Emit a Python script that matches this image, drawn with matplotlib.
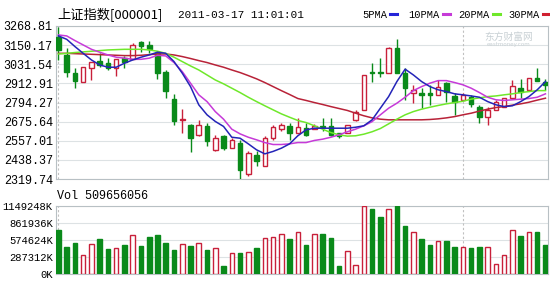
import numpy as np
import matplotlib
matplotlib.use("Agg")
import matplotlib.pyplot as plt
from matplotlib.lines import Line2D

# daily candles
opens = [3203, 3089, 2976, 2924, 3007, 3054, 3038, 3007, 3069, 3062,
         3168, 3151, 3100, 2986, 2815, 2687, 2656, 2594, 2650, 2501,
         2588, 2511, 2546, 2352, 2470, 2398, 2573, 2629, 2650, 2604,
         2635, 2629, 2650, 2650, 2604, 2604, 2683, 2749, 2986, 2986,
         2980, 3131, 2976, 2852, 2856, 2852, 2842, 2914, 2835, 2811,
         2827, 2769, 2707, 2745, 2765, 2821, 2883, 2873, 2949, 2924]
closes = [3120, 2986, 2930, 3017, 3048, 3027, 3007, 3062, 3048, 3151,
          3147, 3124, 2976, 2868, 2677, 2695, 2573, 2656, 2553, 2573,
          2511, 2559, 2377, 2480, 2429, 2573, 2641, 2656, 2604, 2641,
          2594, 2650, 2641, 2594, 2588, 2656, 2738, 2965, 2976, 2976,
          3131, 2980, 2883, 2873, 2842, 2842, 2893, 2862, 2800, 2842,
          2786, 2707, 2749, 2800, 2821, 2897, 2862, 2945, 2930, 2904]
highs = [3265, 3131, 3007, 3017, 3048, 3100, 3069, 3062, 3083, 3162,
         3178, 3178, 3110, 2996, 2848, 2753, 2660, 2687, 2666, 2594,
         2594, 2573, 2563, 2491, 2491, 2584, 2656, 2666, 2666, 2697,
         2666, 2662, 2697, 2697, 2608, 2656, 2749, 2965, 3038, 3069,
         3141, 3186, 3007, 2904, 2883, 2904, 2935, 2924, 2852, 2856,
         2842, 2780, 2765, 2811, 2821, 2935, 2939, 2945, 3007, 2939]
lows = [3058, 2955, 2883, 2924, 2935, 3017, 2996, 2959, 3007, 3062,
        3110, 3100, 2939, 2821, 2656, 2604, 2485, 2584, 2522, 2491,
        2501, 2511, 2319, 2336, 2398, 2398, 2559, 2615, 2563, 2604,
        2584, 2629, 2615, 2584, 2573, 2604, 2677, 2749, 2924, 2955,
        2980, 2980, 2811, 2790, 2759, 2780, 2842, 2800, 2718, 2811,
        2765, 2666, 2656, 2745, 2765, 2821, 2821, 2873, 2930, 2873]

# volume in K
volume = [744, 462, 530, 316, 513, 586, 428, 445, 496, 653,
          479, 620, 653, 518, 406, 507, 479, 530, 406, 439,
          135, 361, 349, 366, 439, 603, 620, 670, 586, 710,
          496, 670, 676, 603, 135, 383, 152, 1149, 1104, 963,
          1104, 1149, 817, 704, 586, 496, 563, 563, 462, 462,
          439, 462, 462, 169, 316, 744, 642, 710, 710, 496]

# moving average lines as drawn
ma5 = [3207, 3186, 3141, 3099, 3058, 3027, 3013, 3013, 3038, 3058,
       3075, 3089, 3106, 3099, 3048, 2976, 2893, 2780, 2718, 2677,
       2646, 2579, 2573, 2538, 2501, 2476, 2491, 2511, 2538, 2588,
       2625, 2635, 2635, 2635, 2635, 2635, 2641, 2650, 2687, 2759,
       2831, 2924, 3001, 2965, 2924, 2893, 2873, 2862, 2848, 2842,
       2835, 2827, 2800, 2780, 2769, 2774, 2800, 2831, 2873, 2924]
ma10 = [3213, 3207, 3178, 3151, 3124, 3106, 3089, 3075, 3069, 3062,
        3062, 3069, 3087, 3083, 3042, 2986, 2914, 2842, 2800, 2738,
        2691, 2629, 2600, 2579, 2563, 2546, 2534, 2534, 2538, 2546,
        2546, 2559, 2567, 2579, 2594, 2613, 2629, 2650, 2676, 2718,
        2759, 2790, 2827, 2868, 2893, 2914, 2930, 2930, 2918, 2904,
        2883, 2856, 2827, 2811, 2807, 2811, 2815, 2819, 2827, 2848]
ma20 = [3095, 3099, 3104, 3108, 3112, 3116, 3120, 3122, 3124, 3124,
        3124, 3120, 3112, 3099, 3075, 3048, 3021, 2996, 2965, 2934,
        2910, 2883, 2856, 2827, 2800, 2774, 2749, 2724, 2703, 2683,
        2670, 2650, 2629, 2608, 2594, 2586, 2588, 2598, 2613, 2633,
        2662, 2691, 2718, 2738, 2753, 2765, 2776, 2786, 2794, 2802,
        2815, 2823, 2831, 2835, 2842, 2848, 2856, 2862, 2868, 2868]
ma30 = [3099, 3099, 3097, 3095, 3093, 3091, 3089, 3087, 3085, 3085,
        3087, 3091, 3095, 3095, 3089, 3079, 3067, 3054, 3042, 3027,
        3013, 2996, 2980, 2961, 2941, 2918, 2893, 2868, 2844, 2819,
        2807, 2794, 2782, 2769, 2757, 2745, 2728, 2712, 2699, 2691,
        2687, 2687, 2687, 2687, 2687, 2689, 2693, 2699, 2707, 2718,
        2728, 2741, 2753, 2763, 2769, 2778, 2786, 2796, 2809, 2821]

price_ticks = [2319.74, 2438.37, 2557.01, 2675.64, 2794.27, 2912.91, 3031.54, 3150.17, 3268.81]
vol_ticks = [0, 287312, 574624, 861936, 1149248]
vol_labels = ["0K", "287312K", "574624K", "861936K", "1149248K"]
month_starts = [0, 49]

RED = "#c8203a"
GREEN = "#0a8a1a"
GRID = "#dde2e4"
MONO = "Liberation Mono"
CJK = ["Noto Sans CJK SC", "DejaVu Sans"]

o = np.array(opens, float)
c = np.array(closes, float)
h = np.array(highs, float)
l = np.array(lows, float)
x = np.arange(len(o))
up = c >= o

fig = plt.figure(figsize=(5.5, 2.82), dpi=100)
ax = fig.add_axes([0.101, 0.365, 0.896, 0.543])
axv = fig.add_axes([0.101, 0.028, 0.896, 0.241])

for a in (ax, axv):
    a.set_xlim(-0.35, len(o) - 0.65)
    a.set_xticks([])
    a.tick_params(axis="y", length=0, pad=2)
    for s in a.spines.values():
        s.set_color("#b8c0c4")
        s.set_linewidth(0.8)
    for m in month_starts:
        a.axvline(m, color="#c0c0c0", lw=0.8, ls=(0, (2, 2)), zorder=1)

# price panel
ax.set_ylim(price_ticks[0], price_ticks[-1])
ax.set_yticks(price_ticks)
ax.set_yticklabels([f"{t:.2f}" for t in price_ticks], family=MONO, fontsize=8.5)
ax.yaxis.grid(True, color=GRID, lw=0.8)
ax.set_axisbelow(True)

w = 0.55
body_lo = np.minimum(o, c)
body_h = np.maximum(np.abs(c - o), 3)
colors = np.where(up, RED, GREEN)
ax.vlines(x, l, h, colors=colors, lw=1.0, zorder=3)
ax.bar(x[up], body_h[up], w, bottom=body_lo[up], facecolor="white",
       edgecolor=RED, lw=1.0, zorder=4)
ax.bar(x[~up], body_h[~up], w, bottom=body_lo[~up], facecolor=GREEN,
       edgecolor=GREEN, lw=1.0, zorder=4)

ax.plot(x, ma30, color="#b82238", lw=1.1, zorder=5)
ax.plot(x, ma20, color="#6fe82a", lw=1.1, zorder=5)
ax.plot(x, ma10, color="#c63ad8", lw=1.1, zorder=5)
ax.plot(x, ma5, color="#2424b8", lw=1.1, zorder=5)

# volume panel
axv.set_ylim(0, vol_ticks[-1])
axv.set_yticks(vol_ticks)
axv.set_yticklabels(vol_labels, family=MONO, fontsize=7.6)
axv.yaxis.grid(True, color=GRID, lw=0.8)
axv.set_axisbelow(True)
vol = np.array(volume, float) * 1000
axv.bar(x[up], vol[up], w, facecolor="white", edgecolor=RED, lw=1.0, zorder=3)
axv.bar(x[~up], vol[~up], w, facecolor=GREEN, edgecolor=GREEN, lw=1.0, zorder=3)

# header texts
fig.text(0.104, 0.947, "上证指数[000001]", family=CJK, fontsize=9.5, va="center")
fig.text(0.324, 0.947, "2011-03-17 11:01:01", family=MONO, fontsize=7.9, va="center")
legend_items = [("5PMA", "#2424d8", 362, 390), ("10PMA", "#c63ad8", 408, 443),
                ("20PMA", "#6fe82a", 458, 493), ("30PMA", "#d02030", 508, 543)]
for label, col, xt, xd in legend_items:
    fig.text(xt / 550, 0.947, label, family=MONO, fontsize=7.5, va="center")
    fig.add_artist(Line2D([xd / 550, (xd + 7) / 550], [0.949, 0.949],
                          color=col, lw=2.2, transform=fig.transFigure))
fig.text(0.104, 0.306, "Vol 509656056", family=MONO, fontsize=8.5, va="center")
fig.text(0.925, 0.87, "东方财富网", family=CJK, fontsize=7, color="#c8d0d4",
         ha="center", va="center")
fig.text(0.925, 0.842, "eastmoney.com", fontsize=4, color="#c8d0d4",
         ha="center", va="center")

fig.savefig("out.png", dpi=100, facecolor="white")
